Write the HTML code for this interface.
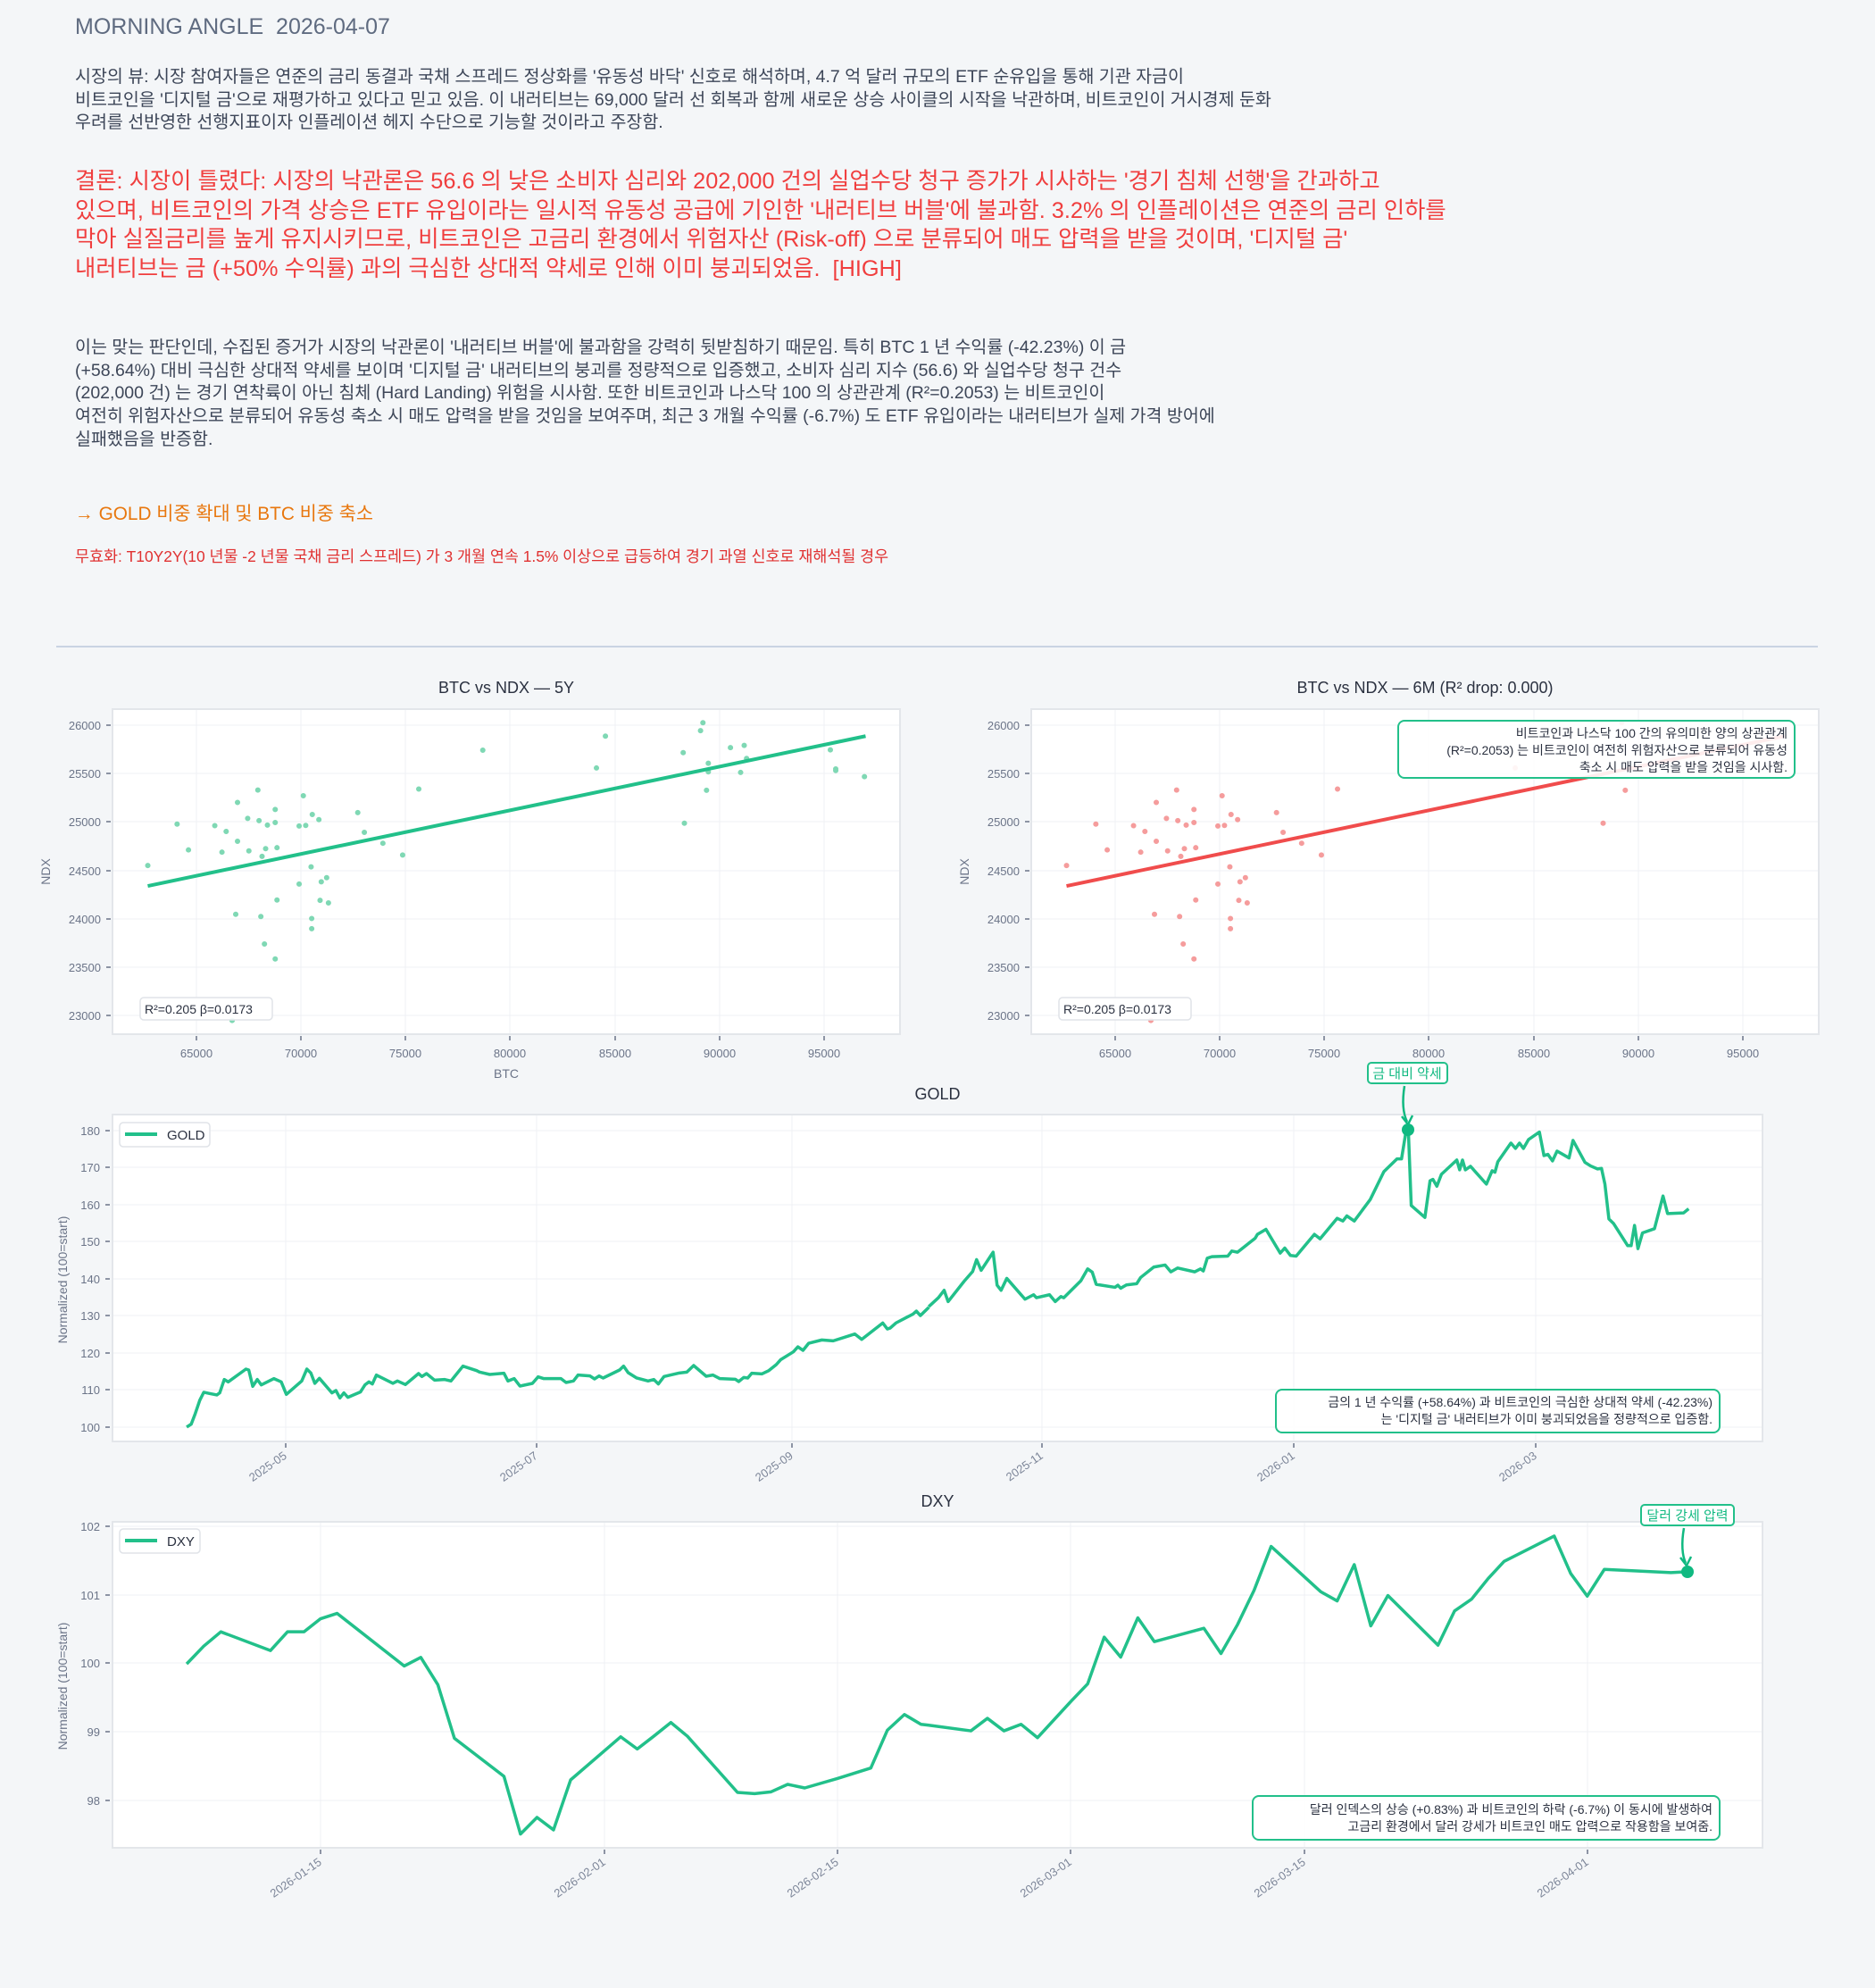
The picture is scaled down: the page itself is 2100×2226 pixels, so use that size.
<!DOCTYPE html>
<html><head><meta charset="utf-8">
<style>
html,body{margin:0;padding:0;background:#f4f6f8;}
body{width:2100px;height:2226px;position:relative;overflow:hidden;font-family:"Liberation Sans","Noto Sans CJK KR",sans-serif;}
.t{position:absolute;left:84px;white-space:nowrap;}
</style></head><body>
<div class="t" style="top:16px;font-size:25px;color:#5f6b80;">MORNING ANGLE&nbsp;&nbsp;2026-04-07</div>
<div class="t" style="top:74px;font-size:19.5px;line-height:25.7px;color:#3d4658;">시장의 뷰: 시장 참여자들은 연준의 금리 동결과 국채 스프레드 정상화를 '유동성 바닥' 신호로 해석하며, 4.7 억 달러 규모의 ETF 순유입을 통해 기관 자금이<br>비트코인을 '디지털 금'으로 재평가하고 있다고 믿고 있음. 이 내러티브는 69,000 달러 선 회복과 함께 새로운 상승 사이클의 시작을 낙관하며, 비트코인이 거시경제 둔화<br>우려를 선반영한 선행지표이자 인플레이션 헤지 수단으로 기능할 것이라고 주장함.</div>
<div class="t" style="top:187px;font-size:25.3px;line-height:32.6px;color:#f03e3e;">결론: 시장이 틀렸다: 시장의 낙관론은 56.6 의 낮은 소비자 심리와 202,000 건의 실업수당 청구 증가가 시사하는 '경기 침체 선행'을 간과하고<br>있으며, 비트코인의 가격 상승은 ETF 유입이라는 일시적 유동성 공급에 기인한 '내러티브 버블'에 불과함. 3.2% 의 인플레이션은 연준의 금리 인하를<br>막아 실질금리를 높게 유지시키므로, 비트코인은 고금리 환경에서 위험자산 (Risk-off) 으로 분류되어 매도 압력을 받을 것이며, '디지털 금'<br>내러티브는 금 (+50% 수익률) 과의 극심한 상대적 약세로 인해 이미 붕괴되었음.&nbsp;&nbsp;[HIGH]</div>
<div class="t" style="top:377px;font-size:19.5px;line-height:25.7px;color:#3d4658;">이는 맞는 판단인데, 수집된 증거가 시장의 낙관론이 '내러티브 버블'에 불과함을 강력히 뒷받침하기 때문임. 특히 BTC 1 년 수익률 (-42.23%) 이 금<br>(+58.64%) 대비 극심한 상대적 약세를 보이며 '디지털 금' 내러티브의 붕괴를 정량적으로 입증했고, 소비자 심리 지수 (56.6) 와 실업수당 청구 건수<br>(202,000 건) 는 경기 연착륙이 아닌 침체 (Hard Landing) 위험을 시사함. 또한 비트코인과 나스닥 100 의 상관관계 (R²=0.2053) 는 비트코인이<br>여전히 위험자산으로 분류되어 유동성 축소 시 매도 압력을 받을 것임을 보여주며, 최근 3 개월 수익률 (-6.7%) 도 ETF 유입이라는 내러티브가 실제 가격 방어에<br>실패했음을 반증함.</div>
<div class="t" style="top:558px;font-size:20.8px;color:#e8770e;">→ GOLD 비중 확대 및 BTC 비중 축소</div>
<div class="t" style="top:610px;font-size:17.4px;color:#e03131;">무효화: T10Y2Y(10 년물 -2 년물 국채 금리 스프레드) 가 3 개월 연속 1.5% 이상으로 급등하여 경기 과열 신호로 재해석될 경우</div>

<svg width="2100" height="2226" style="position:absolute;left:0;top:0" xmlns="http://www.w3.org/2000/svg" font-family="Liberation Sans, Noto Sans CJK KR, sans-serif">
<line x1="63" y1="724" x2="2036" y2="724" stroke="#c9d3e3" stroke-width="2"/>

<!-- ===== Scatter 1 ===== -->
<text x="567" y="776" font-size="18" fill="#2b3140" text-anchor="middle">BTC vs NDX — 5Y</text>
<rect x="126" y="794" width="882" height="364" fill="#fff" stroke="#e3e6ea" stroke-width="2"/>
<g stroke="#eff1f4" stroke-width="1">
<line x1="220" y1="795" x2="220" y2="1157"/><line x1="337" y1="795" x2="337" y2="1157"/><line x1="454" y1="795" x2="454" y2="1157"/><line x1="571" y1="795" x2="571" y2="1157"/><line x1="689" y1="795" x2="689" y2="1157"/><line x1="806" y1="795" x2="806" y2="1157"/><line x1="923" y1="795" x2="923" y2="1157"/>
<line x1="127" y1="812" x2="1007" y2="812"/><line x1="127" y1="866" x2="1007" y2="866"/><line x1="127" y1="920" x2="1007" y2="920"/><line x1="127" y1="975" x2="1007" y2="975"/><line x1="127" y1="1029" x2="1007" y2="1029"/><line x1="127" y1="1083" x2="1007" y2="1083"/><line x1="127" y1="1137" x2="1007" y2="1137"/>
</g>
<g stroke="#6b7488" stroke-width="1.5">
<line x1="119" y1="812" x2="124" y2="812"/><line x1="119" y1="866" x2="124" y2="866"/><line x1="119" y1="920" x2="124" y2="920"/><line x1="119" y1="975" x2="124" y2="975"/><line x1="119" y1="1029" x2="124" y2="1029"/><line x1="119" y1="1083" x2="124" y2="1083"/><line x1="119" y1="1137" x2="124" y2="1137"/>
<line x1="220" y1="1160" x2="220" y2="1165"/><line x1="337" y1="1160" x2="337" y2="1165"/><line x1="454" y1="1160" x2="454" y2="1165"/><line x1="571" y1="1160" x2="571" y2="1165"/><line x1="689" y1="1160" x2="689" y2="1165"/><line x1="806" y1="1160" x2="806" y2="1165"/><line x1="923" y1="1160" x2="923" y2="1165"/>
</g>
<g font-size="13" fill="#6b7488" text-anchor="end">
<text x="113" y="817">26000</text><text x="113" y="871">25500</text><text x="113" y="925">25000</text><text x="113" y="980">24500</text><text x="113" y="1034">24000</text><text x="113" y="1088">23500</text><text x="113" y="1142">23000</text>
</g>
<g font-size="13" fill="#6b7488" text-anchor="middle">
<text x="220" y="1184">65000</text><text x="337" y="1184">70000</text><text x="454" y="1184">75000</text><text x="571" y="1184">80000</text><text x="689" y="1184">85000</text><text x="806" y="1184">90000</text><text x="923" y="1184">95000</text>
<text x="567" y="1207" font-size="14">BTC</text>
</g>
<text transform="translate(56,976) rotate(-90)" font-size="14" fill="#6b7488" text-anchor="middle">NDX</text>

<g transform="translate(0,700) scale(0.67,0.357)">
<path vector-effect="non-scaling-stroke" stroke="#7fd8b4" stroke-width="6" stroke-linecap="round" fill="none" d="M247 754h.1M296 624h.1M315 705h.1M359 629h.1M371 712h.1M378 647h.1M397 556h.1M397 678h.1M394 907h.1M414 606h.1M416 708h.1M431 517h.1M433 613h.1M436 914h.1M438 725h.1M442 1000h.1M444 701h.1M447 627h.1M460 578h.1M460 619h.1M460 1047h.1M463 698h.1M463 862h.1M500 630h.1M500 812h.1M507 535h.1M511 628h.1M520 758h.1M521 920h.1M521 952h.1M522 594h.1M533 610h.1M535 863h.1M537 805h.1M546 792h.1M549 871h.1M598 588h.1M609 650h.1M640 684h.1M673 721h.1M700 514h.1M807 392h.1M997 448h.1M1012 348h.1M1142 400h.1M1144 621h.1M1171 331h.1M1175 306h.1M1181 518h.1M1184 433h.1M1184 460h.1M1221 384h.1M1238 462h.1M1244 377h.1M1248 418h.1M1388 391h.1M1397 451h.1M1397 456h.1M1445 475h.1M388 1240h.1"/>
<line vector-effect="non-scaling-stroke" x1="247" y1="818" x2="1447" y2="348" stroke="#22c08a" stroke-width="4"/>
</g>
<rect x="157" y="1117" width="148" height="25" rx="4" fill="#fff" fill-opacity="0.9" stroke="#e0e3e8" stroke-width="1.5"/>
<text x="162" y="1135" font-size="14" fill="#2b3140">R²=0.205  β=0.0173</text>

<!-- ===== Scatter 2 ===== -->
<text x="1596" y="776" font-size="18" fill="#2b3140" text-anchor="middle">BTC vs NDX — 6M (R² drop: 0.000)</text>
<rect x="1155" y="794" width="882" height="364" fill="#fff" stroke="#e3e6ea" stroke-width="2"/>
<g stroke="#eff1f4" stroke-width="1">
<line x1="1249" y1="795" x2="1249" y2="1157"/><line x1="1366" y1="795" x2="1366" y2="1157"/><line x1="1483" y1="795" x2="1483" y2="1157"/><line x1="1600" y1="795" x2="1600" y2="1157"/><line x1="1718" y1="795" x2="1718" y2="1157"/><line x1="1835" y1="795" x2="1835" y2="1157"/><line x1="1952" y1="795" x2="1952" y2="1157"/>
<line x1="1156" y1="812" x2="2036" y2="812"/><line x1="1156" y1="866" x2="2036" y2="866"/><line x1="1156" y1="920" x2="2036" y2="920"/><line x1="1156" y1="975" x2="2036" y2="975"/><line x1="1156" y1="1029" x2="2036" y2="1029"/><line x1="1156" y1="1083" x2="2036" y2="1083"/><line x1="1156" y1="1137" x2="2036" y2="1137"/>
</g>
<g stroke="#6b7488" stroke-width="1.5">
<line x1="1148" y1="812" x2="1153" y2="812"/><line x1="1148" y1="866" x2="1153" y2="866"/><line x1="1148" y1="920" x2="1153" y2="920"/><line x1="1148" y1="975" x2="1153" y2="975"/><line x1="1148" y1="1029" x2="1153" y2="1029"/><line x1="1148" y1="1083" x2="1153" y2="1083"/><line x1="1148" y1="1137" x2="1153" y2="1137"/>
<line x1="1249" y1="1160" x2="1249" y2="1165"/><line x1="1366" y1="1160" x2="1366" y2="1165"/><line x1="1483" y1="1160" x2="1483" y2="1165"/><line x1="1600" y1="1160" x2="1600" y2="1165"/><line x1="1718" y1="1160" x2="1718" y2="1165"/><line x1="1835" y1="1160" x2="1835" y2="1165"/><line x1="1952" y1="1160" x2="1952" y2="1165"/>
</g>
<g font-size="13" fill="#6b7488" text-anchor="end">
<text x="1142" y="817">26000</text><text x="1142" y="871">25500</text><text x="1142" y="925">25000</text><text x="1142" y="980">24500</text><text x="1142" y="1034">24000</text><text x="1142" y="1088">23500</text><text x="1142" y="1142">23000</text>
</g>
<g font-size="13" fill="#6b7488" text-anchor="middle">
<text x="1249" y="1184">65000</text><text x="1366" y="1184">70000</text><text x="1483" y="1184">75000</text><text x="1600" y="1184">80000</text><text x="1718" y="1184">85000</text><text x="1835" y="1184">90000</text><text x="1952" y="1184">95000</text>
</g>
<text transform="translate(1085,976) rotate(-90)" font-size="14" fill="#6b7488" text-anchor="middle">NDX</text>
<g transform="translate(1029,700) scale(0.67,0.357)">
<path vector-effect="non-scaling-stroke" stroke="#f59c9c" stroke-width="6" stroke-linecap="round" fill="none" d="M247 754h.1M296 624h.1M315 705h.1M359 629h.1M371 712h.1M378 647h.1M397 556h.1M397 678h.1M394 907h.1M414 606h.1M416 708h.1M431 517h.1M433 613h.1M436 914h.1M438 725h.1M442 1000h.1M444 701h.1M447 627h.1M460 578h.1M460 619h.1M460 1047h.1M463 698h.1M463 862h.1M500 630h.1M500 812h.1M507 535h.1M511 628h.1M520 758h.1M521 920h.1M521 952h.1M522 594h.1M533 610h.1M535 863h.1M537 805h.1M546 792h.1M549 871h.1M598 588h.1M609 650h.1M640 684h.1M673 721h.1M700 514h.1M997 448h.1M1144 621h.1M1181 518h.1M1175 306h.1M388 1240h.1"/>
<line vector-effect="non-scaling-stroke" x1="247" y1="818" x2="1447" y2="348" stroke="#f04c4c" stroke-width="4"/>
</g>
<rect x="157" y="1117" width="0" height="0" fill="none"/>
<rect x="1186" y="1117" width="148" height="25" rx="4" fill="#fff" fill-opacity="0.9" stroke="#e0e3e8" stroke-width="1.5"/>
<text x="1191" y="1135" font-size="14" fill="#2b3140">R²=0.205  β=0.0173</text>
<rect x="1566" y="807" width="444" height="64" rx="7" fill="#fff" fill-opacity="0.9" stroke="#22c08a" stroke-width="2"/>
<g font-size="14" fill="#2b3140" text-anchor="end">
<text x="2002" y="826">비트코인과 나스닥 100 간의 유의미한 양의 상관관계</text>
<text x="2002" y="845">(R²=0.2053) 는 비트코인이 여전히 위험자산으로 분류되어 유동성</text>
<text x="2002" y="864">축소 시 매도 압력을 받을 것임을 시사함.</text>
</g>

<!-- ===== GOLD ===== -->
<text x="1050" y="1231" font-size="18" fill="#2b3140" text-anchor="middle">GOLD</text>
<rect x="126" y="1248" width="1848" height="366" fill="#fff" stroke="#e3e6ea" stroke-width="2"/>
<g stroke="#eff1f4" stroke-width="1">
<line x1="320" y1="1249" x2="320" y2="1613"/><line x1="601" y1="1249" x2="601" y2="1613"/><line x1="887" y1="1249" x2="887" y2="1613"/><line x1="1167" y1="1249" x2="1167" y2="1613"/><line x1="1449" y1="1249" x2="1449" y2="1613"/><line x1="1720" y1="1249" x2="1720" y2="1613"/>
<line x1="127" y1="1266" x2="1973" y2="1266"/><line x1="127" y1="1307" x2="1973" y2="1307"/><line x1="127" y1="1349" x2="1973" y2="1349"/><line x1="127" y1="1390" x2="1973" y2="1390"/><line x1="127" y1="1432" x2="1973" y2="1432"/><line x1="127" y1="1473" x2="1973" y2="1473"/><line x1="127" y1="1515" x2="1973" y2="1515"/><line x1="127" y1="1556" x2="1973" y2="1556"/><line x1="127" y1="1598" x2="1973" y2="1598"/>
</g>
<g stroke="#6b7488" stroke-width="1.5">
<line x1="118" y1="1266" x2="123" y2="1266"/><line x1="118" y1="1307" x2="123" y2="1307"/><line x1="118" y1="1349" x2="123" y2="1349"/><line x1="118" y1="1390" x2="123" y2="1390"/><line x1="118" y1="1432" x2="123" y2="1432"/><line x1="118" y1="1473" x2="123" y2="1473"/><line x1="118" y1="1515" x2="123" y2="1515"/><line x1="118" y1="1556" x2="123" y2="1556"/><line x1="118" y1="1598" x2="123" y2="1598"/>
<line x1="320" y1="1616" x2="320" y2="1621"/><line x1="601" y1="1616" x2="601" y2="1621"/><line x1="887" y1="1616" x2="887" y2="1621"/><line x1="1167" y1="1616" x2="1167" y2="1621"/><line x1="1449" y1="1616" x2="1449" y2="1621"/><line x1="1720" y1="1616" x2="1720" y2="1621"/>
</g>
<g font-size="13" fill="#6b7488" text-anchor="end">
<text x="112" y="1271">180</text><text x="112" y="1312">170</text><text x="112" y="1354">160</text><text x="112" y="1395">150</text><text x="112" y="1437">140</text><text x="112" y="1478">130</text><text x="112" y="1520">120</text><text x="112" y="1561">110</text><text x="112" y="1603">100</text>
</g>
<g font-size="13" fill="#7d8699" text-anchor="end">
<text transform="translate(322,1632) rotate(-35)">2025-05</text><text transform="translate(603,1632) rotate(-35)">2025-07</text><text transform="translate(889,1632) rotate(-35)">2025-09</text><text transform="translate(1169,1632) rotate(-35)">2025-11</text><text transform="translate(1451,1632) rotate(-35)">2026-01</text><text transform="translate(1722,1632) rotate(-35)">2026-03</text>
</g>
<text transform="translate(75,1433) rotate(-90)" font-size="14" fill="#6b7488" text-anchor="middle">Normalized (100=start)</text>
<g fill="none" stroke="#22c08a" stroke-width="3.5" stroke-linejoin="round">
<polyline vector-effect="non-scaling-stroke" transform="translate(40,1200) scale(0.638,0.333)" points="265,1195 273,1185 280,1150 288,1105 295,1078 305,1082 318,1087 323,1080 331,1035 338,1043 369,1000 374,1003 381,1058 389,1035 396,1053 418,1032 431,1043 440,1085 467,1040 476,1000 483,1013 490,1048 498,1031 520,1080 527,1072 534,1097 541,1080 548,1095 570,1077 578,1053 585,1043 591,1050 598,1020 627,1048 635,1040 649,1052 672,1015 678,1025 686,1015 700,1037 718,1035 729,1040 750,990 774,1005 779,1010 797,1018 822,1014 829,1040 840,1032 850,1057 872,1048 882,1026 892,1032 922,1032 931,1045 944,1040 952,1020 973,1023 981,1033 989,1023 996,1030 1025,1003 1032,990 1040,1012 1055,1030 1075,1040 1085,1035 1093,1050 1103,1025 1130,1013 1143,1010 1155,988 1177,1024 1189,1020 1201,1032 1228,1034 1234,1042 1243,1028 1250,1030 1257,1014 1275,1016 1287,1005 1300,985 1308,968 1330,942 1338,925 1347,937 1357,913 1380,902 1400,905 1438,882 1450,900 1487,845 1495,865 1500,862 1510,845 1540,815 1546,805 1553,820 1568,792"/>
<polyline vector-effect="non-scaling-stroke" transform="translate(1000,1200) scale(0.638,0.333)" points="63,790 80,760 90,735 97,773 125,705 140,672 147,632 155,668 176,607 183,718 190,735 200,695 232,765 247,750 252,760 275,750 285,773 295,756 300,760 330,703 342,663 350,674 357,715 390,725 395,718 400,728 410,717 428,713 435,692 458,657 478,650 488,673 500,660 530,673 540,663 545,670 552,627 560,622 588,620 595,603 605,607 636,560 640,547 655,530 680,610 688,593 698,618 708,620 740,547 750,562 780,493 790,502 797,485 810,502 838,430 862,336 885,293 893,293 900,210 905,200 910,450 934,490 943,367 948,362 955,385 963,345 990,297 995,330 1000,297 1005,330 1014,318 1042,378 1052,333 1057,338 1062,303 1085,240 1093,258 1100,240 1107,258 1116,228 1135,203 1143,282 1150,278 1158,300 1166,267 1187,290 1194,231 1215,305 1225,317 1237,327 1244,325 1250,378 1257,495 1265,510 1290,585 1296,585 1302,517 1308,595 1316,542 1337,528 1352,418 1360,477 1388,475 1397,461"/>
</g>
<circle cx="1577" cy="1265" r="7" fill="#10b981"/>
<path d="M1573 1216 C1570 1235,1572 1248,1576 1256" fill="none" stroke="#10b981" stroke-width="2.5"/>
<path d="M1570 1250 L1577 1259 L1582 1249" fill="none" stroke="#10b981" stroke-width="2.5"/>
<rect x="1532" y="1190" width="89" height="23" rx="4" fill="#fff" stroke="#22c08a" stroke-width="2"/>
<text x="1576" y="1207" font-size="15" fill="#10b981" text-anchor="middle">금 대비 약세</text>
<rect x="134" y="1257" width="101" height="27" rx="4" fill="#fff" stroke="#e0e3e8" stroke-width="1.5"/>
<line x1="140" y1="1270" x2="176" y2="1270" stroke="#22c08a" stroke-width="4"/>
<text x="187" y="1276" font-size="15" fill="#2b3140">GOLD</text>
<rect x="1429" y="1556" width="497" height="48" rx="7" fill="#fff" fill-opacity="0.9" stroke="#22c08a" stroke-width="2"/>
<g font-size="14" fill="#2b3140" text-anchor="end">
<text x="1918" y="1575">금의 1 년 수익률 (+58.64%) 과 비트코인의 극심한 상대적 약세 (-42.23%)</text>
<text x="1918" y="1594">는 '디지털 금' 내러티브가 이미 붕괴되었음을 정량적으로 입증함.</text>
</g>

<!-- ===== DXY ===== -->
<text x="1050" y="1687" font-size="18" fill="#2b3140" text-anchor="middle">DXY</text>
<rect x="126" y="1704" width="1848" height="365" fill="#fff" stroke="#e3e6ea" stroke-width="2"/>
<g stroke="#eff1f4" stroke-width="1">
<line x1="359" y1="1705" x2="359" y2="2068"/><line x1="677" y1="1705" x2="677" y2="2068"/><line x1="938" y1="1705" x2="938" y2="2068"/><line x1="1199" y1="1705" x2="1199" y2="2068"/><line x1="1461" y1="1705" x2="1461" y2="2068"/><line x1="1778" y1="1705" x2="1778" y2="2068"/>
<line x1="127" y1="1709" x2="1973" y2="1709"/><line x1="127" y1="1786" x2="1973" y2="1786"/><line x1="127" y1="1862" x2="1973" y2="1862"/><line x1="127" y1="1939" x2="1973" y2="1939"/><line x1="127" y1="2016" x2="1973" y2="2016"/>
</g>
<g stroke="#6b7488" stroke-width="1.5">
<line x1="118" y1="1709" x2="123" y2="1709"/><line x1="118" y1="1786" x2="123" y2="1786"/><line x1="118" y1="1862" x2="123" y2="1862"/><line x1="118" y1="1939" x2="123" y2="1939"/><line x1="118" y1="2016" x2="123" y2="2016"/>
<line x1="359" y1="2071" x2="359" y2="2076"/><line x1="677" y1="2071" x2="677" y2="2076"/><line x1="938" y1="2071" x2="938" y2="2076"/><line x1="1199" y1="2071" x2="1199" y2="2076"/><line x1="1461" y1="2071" x2="1461" y2="2076"/><line x1="1778" y1="2071" x2="1778" y2="2076"/>
</g>
<g font-size="13" fill="#6b7488" text-anchor="end">
<text x="112" y="1714">102</text><text x="112" y="1791">101</text><text x="112" y="1867">100</text><text x="112" y="1944">99</text><text x="112" y="2021">98</text>
</g>
<g font-size="13" fill="#7d8699" text-anchor="end">
<text transform="translate(361,2087) rotate(-35)">2026-01-15</text><text transform="translate(679,2087) rotate(-35)">2026-02-01</text><text transform="translate(940,2087) rotate(-35)">2026-02-15</text><text transform="translate(1201,2087) rotate(-35)">2026-03-01</text><text transform="translate(1463,2087) rotate(-35)">2026-03-15</text><text transform="translate(1780,2087) rotate(-35)">2026-04-01</text>
</g>
<text transform="translate(75,1888) rotate(-90)" font-size="14" fill="#6b7488" text-anchor="middle">Normalized (100=start)</text>
<g fill="none" stroke="#22c08a" stroke-width="3.5" stroke-linejoin="round">
<polyline vector-effect="non-scaling-stroke" transform="translate(40,1670) scale(0.638,0.333)" points="265,580 295,520 325,472 412,535 442,472 471,472 500,428 529,410 647,587 676,558 706,650 735,830 822,958 851,1152 880,1096 909,1138 939,970 1027,825 1056,866 1085,823 1115,777 1144,823 1232,1012 1262,1016 1291,1010 1320,985 1350,997 1408,965 1466,930 1495,803 1525,750 1554,783 1568,786"/>
<polyline vector-effect="non-scaling-stroke" transform="translate(1000,1670) scale(0.638,0.333)" points="63,786 137,805 166,763 195,805 225,783 254,828 313,705 342,647 371,490 400,557 430,425 459,505 546,460 576,545 605,448 634,333 664,185 751,337 780,368 810,246 839,452 869,350 957,517 986,402 1016,362 1045,293 1073,235 1161,150 1190,276 1219,352 1249,262 1366,273 1395,270"/>
</g>
<circle cx="1890" cy="1760" r="7" fill="#10b981"/>
<path d="M1886 1711 C1883 1728,1884 1742,1888 1750" fill="none" stroke="#10b981" stroke-width="2.5"/>
<path d="M1882 1744 L1889 1753 L1894 1743" fill="none" stroke="#10b981" stroke-width="2.5"/>
<rect x="1838" y="1685" width="104" height="23" rx="4" fill="#fff" stroke="#22c08a" stroke-width="2"/>
<text x="1890" y="1702" font-size="15" fill="#10b981" text-anchor="middle">달러 강세 압력</text>
<rect x="134" y="1712" width="90" height="27" rx="4" fill="#fff" stroke="#e0e3e8" stroke-width="1.5"/>
<line x1="140" y1="1725" x2="176" y2="1725" stroke="#22c08a" stroke-width="4"/>
<text x="187" y="1731" font-size="15" fill="#2b3140">DXY</text>
<rect x="1403" y="2011" width="523" height="49" rx="7" fill="#fff" fill-opacity="0.9" stroke="#22c08a" stroke-width="2"/>
<g font-size="14" fill="#2b3140" text-anchor="end">
<text x="1918" y="2031">달러 인덱스의 상승 (+0.83%) 과 비트코인의 하락 (-6.7%) 이 동시에 발생하여</text>
<text x="1918" y="2050">고금리 환경에서 달러 강세가 비트코인 매도 압력으로 작용함을 보여줌.</text>
</g>
</svg>
</body></html>
